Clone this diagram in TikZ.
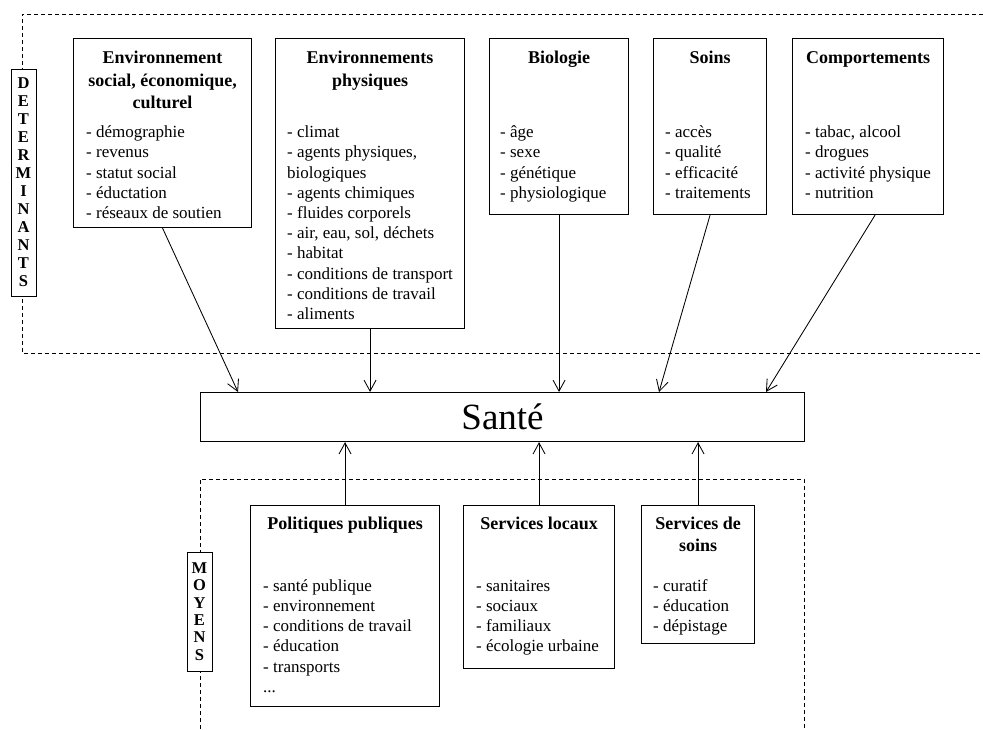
\documentclass[tikz,border=0pt]{standalone}
\usepackage{fontspec}
\setmainfont{Liberation Serif}
\usetikzlibrary{arrows.meta,calc}
\begin{document}
\begin{tikzpicture}[x=1pt,y=-1pt,
  box/.style={draw, line width=1.1pt, anchor=north west, inner sep=0pt, fill=white},
  head/.style={anchor=north, align=center, inner sep=0pt, font=\fontsize{18}{22.5}\selectfont\bfseries},
  items/.style={anchor=north west, align=left, inner sep=0pt, font=\fontsize{17}{20.2}\selectfont},
  vlabel/.style={draw, fill=white, line width=1pt, inner sep=0pt, minimum width=25pt, align=center, font=\fontsize{16.5}{18}\selectfont\bfseries},
  dashline/.style={dash pattern=on 4pt off 3pt, line width=1pt},
  arr/.style={line width=0.85pt, -{Straight Barb[length=11pt,width=12pt]}},
]
\useasboundingbox (0,0) rectangle (983,729);

% dashed frames
\draw[dashline] (983,14) -- (22,14) -- (22,353) -- (983,353);
\draw[dashline] (200,729) -- (200,479) -- (804,479) -- (804,729);

% side labels
\node[vlabel, minimum height=227pt] (det) at (23.5,182.5) {D\\E\\T\\E\\R\\M\\I\\N\\A\\N\\T\\S};
\node[vlabel, minimum height=119pt, font=\fontsize{16.5}{17.4}\selectfont\bfseries] (moy) at (199.5,611.5) {M\\O\\Y\\E\\N\\S};

% top boxes
\node[box, minimum width=178pt, minimum height=189pt] (b1) at (73,38) {};
\node[box, minimum width=189pt, minimum height=290pt] (b2) at (275,38) {};
\node[box, minimum width=139pt, minimum height=176pt] (b3) at (489,38) {};
\node[box, minimum width=113pt, minimum height=176pt] (b4) at (653,38) {};
\node[box, minimum width=151pt, minimum height=176pt] (b5) at (792,38) {};

\node[head] (h1) at ($(b1.north)+(0,10)$) {\strut Environnement\\social, économique,\\culturel};
\node[head] (h2) at ($(b2.north)+(0,10)$) {\strut Environnements\\physiques};
\node[head] (h3) at ($(b3.north)+(0,10)$) {\strut Biologie};
\node[head] (h4) at ($(b4.north)+(0,10)$) {\strut Soins};
\node[head] (h5) at ($(b5.north)+(0,10)$) {\strut Comportements};

\node[items] (l1) at ($(b1.north west)+(13,85.4)$) {\strut- démographie\\- revenus\\- statut social\\- éductation\\- réseaux de soutien};
\node[items] (l2) at ($(b2.north west)+(12,85.4)$) {\strut- climat\\- agents physiques,\\biologiques\\- agents chimiques\\- fluides corporels\\- air, eau, sol, déchets\\- habitat\\- conditions de transport\\- conditions de travail\\- aliments};
\node[items] (l3) at ($(b3.north west)+(11,85.4)$) {\strut- âge\\- sexe\\- génétique\\- physiologique};
\node[items] (l4) at ($(b4.north west)+(12,85.4)$) {\strut- accès\\- qualité\\- efficacité\\- traitements};
\node[items] (l5) at ($(b5.north west)+(13,85.4)$) {\strut- tabac, alcool\\- drogues\\- activité physique\\- nutrition};

% centre
\node[box, minimum width=604pt, minimum height=49pt, font=\fontsize{37}{40}\selectfont] (sante) at (200,392) {Santé};

% bottom boxes
\node[box, minimum width=189pt, minimum height=201pt] (p1) at (250,505) {};
\node[box, minimum width=151pt, minimum height=163pt] (p2) at (463,505) {};
\node[box, minimum width=113pt, minimum height=138pt] (p3) at (641,505) {};

\node[head] (g1) at ($(p1.north)+(0,8.2)$) {\strut Politiques publiques};
\node[head] (g2) at ($(p2.north)+(0,8.2)$) {\strut Services locaux};
\node[head] (g3) at ($(p3.north)+(0,8.2)$) {\strut Services de\\soins};

\node[items] (m1) at ($(p1.north west)+(13,71.9)$) {\strut- santé publique\\- environnement\\- conditions de travail\\- éducation\\- transports\\...};
\node[items] (m2) at ($(p2.north west)+(13,71.9)$) {\strut- sanitaires\\- sociaux\\- familiaux\\- écologie urbaine};
\node[items] (m3) at ($(p3.north west)+(12,71.9)$) {\strut- curatif\\- éducation\\- dépistage};

% arrow targets
\coordinate (t1) at ($(sante.north west)+(38,0)$);
\coordinate (t4) at ($(sante.north west)+(459,0)$);
\coordinate (t5) at ($(sante.north west)+(566,0)$);
\coordinate (o5) at ($(b5.south)+(7,0)$);

% connectors
\draw[arr] (b1.south) -- (t1);
\draw[arr] (b2.south) -- (b2.south |- sante.north);
\draw[arr] (b3.south) -- (b3.south |- sante.north);
\draw[arr] (b4.south) -- (t4);
\draw[arr] (o5) -- (t5);

\draw[arr] (p1.north) -- (p1.north |- sante.south);
\draw[arr] (p2.north) -- (p2.north |- sante.south);
\draw[arr] (p3.north) -- (p3.north |- sante.south);
\end{tikzpicture}
\end{document}
